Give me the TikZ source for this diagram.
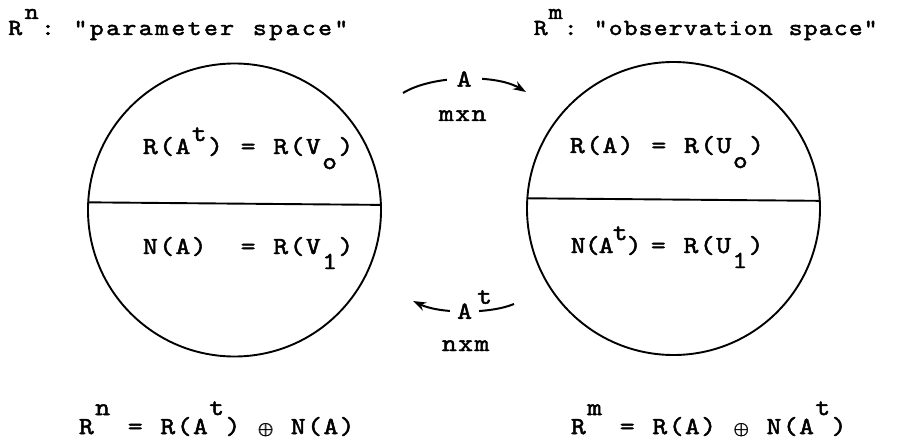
\documentclass[tikz,border=0pt]{standalone}
\usepackage{fontspec}
\setmonofont{lmmono10-regular.otf}[FakeBold=2,FakeStretch=1.15]
\usetikzlibrary{arrows.meta}
\newlength\pitch
\setlength\pitch{16.3pt}
\newcommand\up[2][13pt]{\raisebox{#1}{#2}}
\newcommand\dn[1]{\raisebox{-15pt}{#1}}
\newcommand\opl{{\fontsize{17}{17}\selectfont\boldmath\rlap{$\oplus$}\kern0.7pt$\oplus$}}
\makeatletter
\def\twcells#1{\twc@a#1\relax}
\def\twc@a#1{\ifx#1\relax\else\makebox[\pitch]{#1}\expandafter\twc@a\fi}
\makeatother
\tikzset{
  twtext/.style={inner sep=0pt, anchor=base west, font=\ttfamily\fontsize{24.5}{28}\selectfont},
  tttl/.style={twtext, font=\ttfamily\fontsize{23}{26}\selectfont},
  lab/.style={fill=white, inner ysep=1pt, font=\ttfamily\fontsize{24.5}{28}\selectfont},
  circ/.style={draw, circle, line width=1.9pt, minimum size=293pt, inner sep=0pt, outer sep=0pt},
  chord/.style={line width=1.9pt},
  conn/.style={line width=2pt, -{Stealth[length=13pt,width=9pt]}}
}
\begin{document}
\begin{tikzpicture}[x=1pt,y=-1pt]
\useasboundingbox (0,0) rectangle (915,441);
% circles
\node[circ] (L) at (234.5,210) {};
\node[circ] (R) at (673.5,208.5) {};
\draw[chord] (L.177.2) -- (L.2.8);
\draw[chord] (R.176.7) -- (R.3.3);
% titles
\node[tttl] (t1) at (7,35) {\twcells{R{\up[16pt]{n}}:~"parameter~space"}};
\node[tttl] (t2) at (533,35) {\setlength\pitch{15pt}\twcells{R{\up[16pt]{m}}:~"observation~space"}};
% inside texts
\node[twtext] (l1) at (142,154) {\twcells{R(A{\up t})~=~R(V{\dn o})}};
\node[twtext] (l2) at (142,254) {\twcells{N(A)~~=~R(V{\dn 1})}};
\node[twtext] (r1) at (569,153) {\twcells{R(A)~=~R(U{\dn o})}};
\node[twtext] (r2a) at (571,253) {\setlength\pitch{14pt}\twcells{N(A{\up t})}};
\node[twtext] (r2b) at (650,253) {\twcells{=~R(U{\dn 1})}};
% bottom equations
\node[twtext] (b1) at (78,434) {\twcells{R{\up[19pt]{n}}~=~R(A{\up[19pt]{t}})~\opl~N(A)}};
\node[twtext] (b2) at (570,434) {\twcells{R{\up[19pt]{m}}~=~R(A)~\opl~N(A{\up[19pt]{t}})}};
% dimensions
\node[twtext] (mxn) at (438,121) {\twcells{mxn}};
\node[twtext] (nxm) at (441,351) {\twcells{nxm}};
% arrows
\coordinate (a1s) at (403,93);
\coordinate (a1e) at (526,92);
\draw[conn] (a1s) .. controls (432,75) and (496,74) .. (a1e)
  node[pos=.5, lab, inner xsep=10pt] (lA) {A};
\coordinate (a2s) at (514,304);
\coordinate (a2e) at (413,301);
\draw[conn] (a2s) .. controls (490,314) and (440,314) .. (a2e)
  node[pos=.5, lab, inner xsep=7pt] (lB) {A};
\node[twtext] (lBt) at ([xshift=-3pt,yshift=15pt]lB.base east) {t};
\end{tikzpicture}
\end{document}
